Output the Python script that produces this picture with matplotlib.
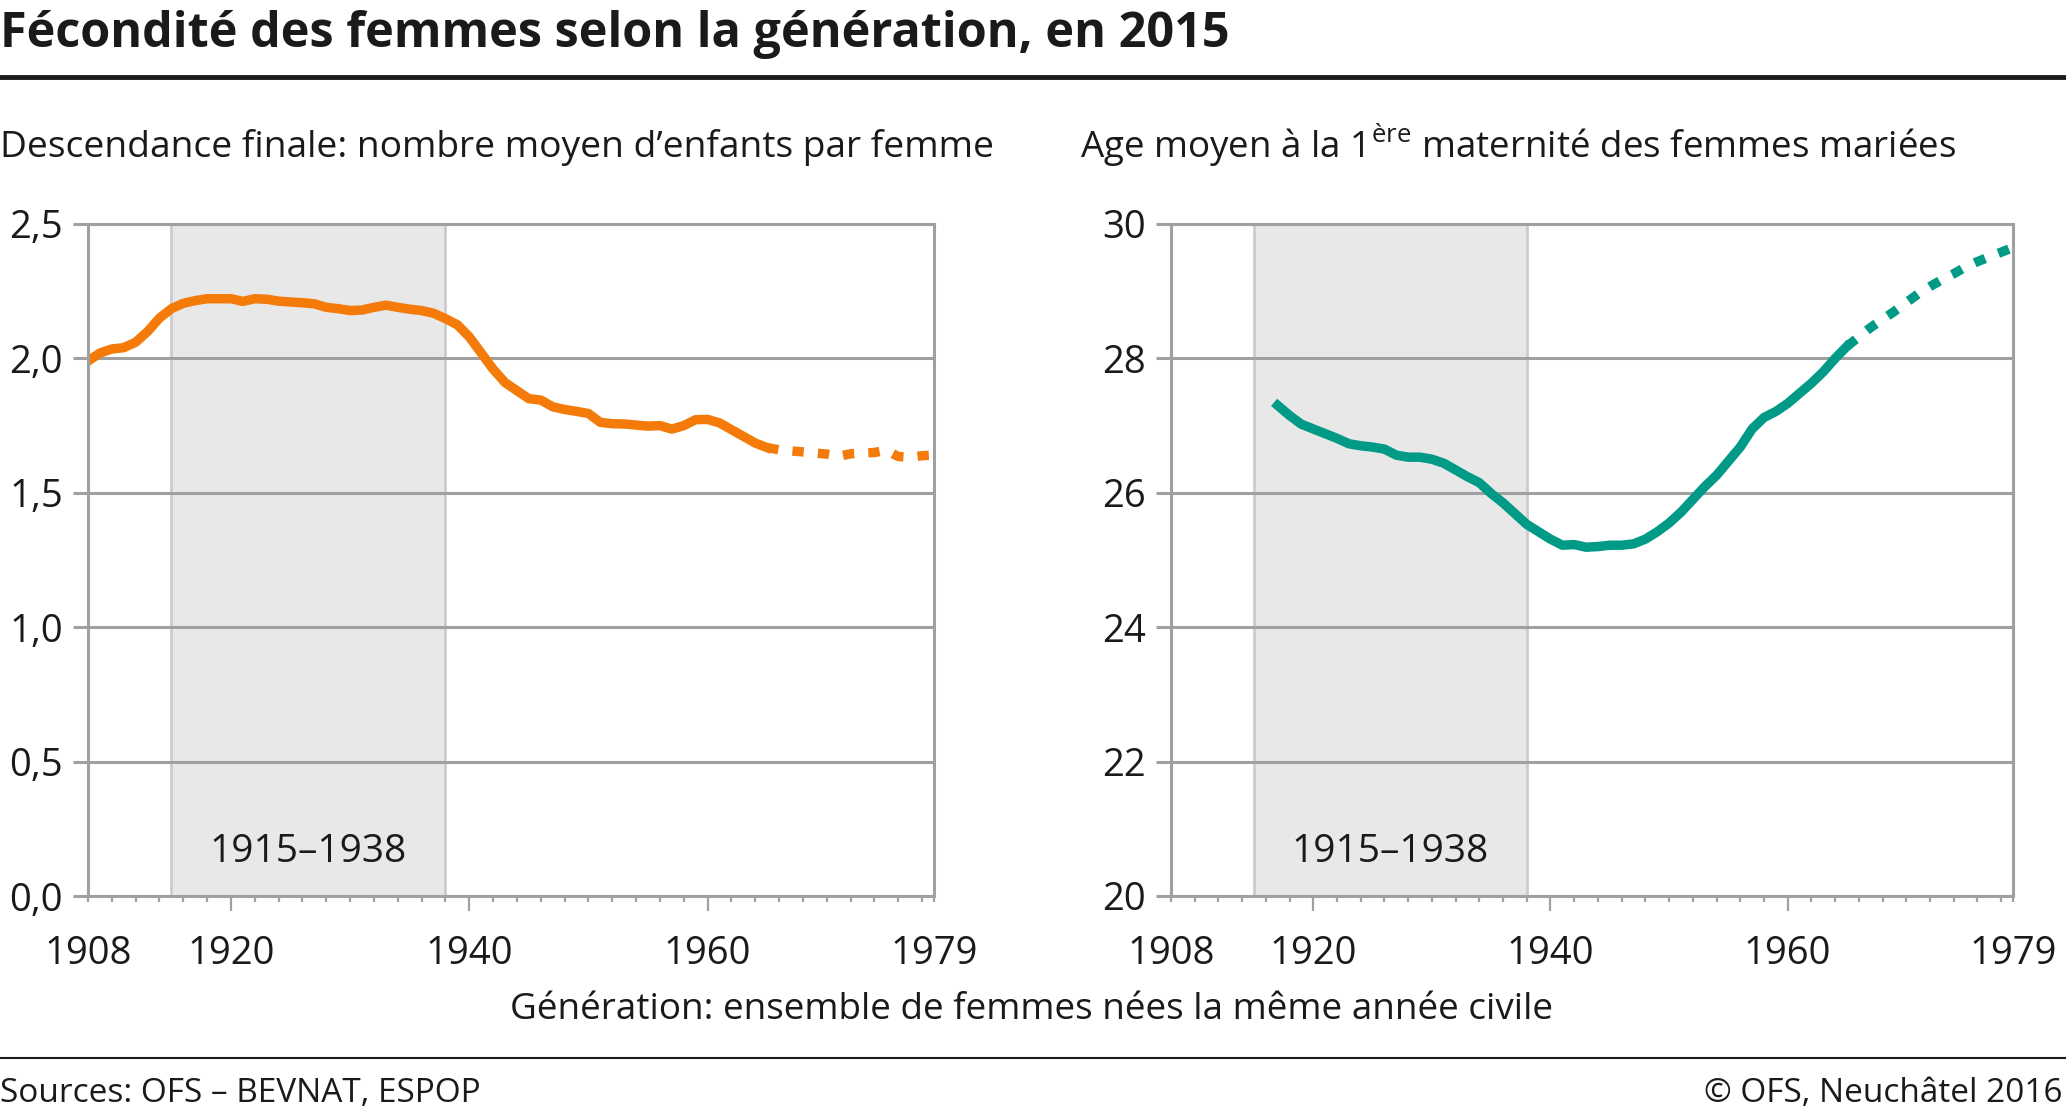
import numpy as np
import matplotlib.pyplot as plt
from matplotlib.lines import Line2D

plt.rcParams['font.family'] = ['Open Sans', 'DejaVu Sans']
plt.rcParams['mathtext.fontset'] = 'custom'
plt.rcParams['mathtext.rm'] = 'Open Sans'

# Descendance finale (nombre moyen d'enfants par femme)
annees_desc = list(range(1908, 1966))
desc = [1.99, 2.02, 2.035, 2.04, 2.06, 2.10, 2.15, 2.185, 2.205, 2.215,
        2.222, 2.222, 2.222, 2.212, 2.222, 2.220, 2.213, 2.210, 2.207, 2.203,
        2.19, 2.185, 2.178, 2.180, 2.19, 2.198, 2.19, 2.183, 2.178, 2.168,
        2.148, 2.125, 2.08, 2.02, 1.96, 1.91, 1.88, 1.85, 1.845, 1.82,
        1.81, 1.803, 1.795, 1.762, 1.757, 1.756, 1.752, 1.748, 1.75, 1.737,
        1.75, 1.772, 1.773, 1.76, 1.735, 1.71, 1.685, 1.668]
annees_desc_proj = list(range(1965, 1980))
desc_proj = [1.668, 1.66, 1.656, 1.652, 1.648, 1.644, 1.636, 1.645, 1.648,
             1.65, 1.658, 1.635, 1.632, 1.638, 1.64]

# Age moyen a la 1ere maternite (femmes mariees)
annees_age = list(range(1917, 1966))
age = [27.30, 27.15, 27.02, 26.95, 26.88, 26.81, 26.73, 26.70, 26.68, 26.65,
       26.56, 26.53, 26.53, 26.50, 26.44, 26.34, 26.24, 26.15, 25.99, 25.85,
       25.69, 25.53, 25.42, 25.31, 25.22, 25.23, 25.19, 25.20, 25.22, 25.22,
       25.24, 25.31, 25.42, 25.55, 25.71, 25.90, 26.09, 26.26, 26.47, 26.68,
       26.95, 27.12, 27.21, 27.33, 27.48, 27.63, 27.80, 28.00, 28.18]
annees_age_proj = list(range(1965, 1980))
age_proj = [28.18, 28.32, 28.46, 28.58, 28.70, 28.83, 28.96, 29.07, 29.17,
            29.26, 29.36, 29.44, 29.51, 29.58, 29.65]

xticks = [1908, 1920, 1940, 1960, 1979]
yticks_g = [0.0, 0.5, 1.0, 1.5, 2.0, 2.5]
ylabels_g = ['0,0', '0,5', '1,0', '1,5', '2,0', '2,5']
yticks_d = [20, 22, 24, 26, 28, 30]
periode = (1915, 1938)

W, H = 2066, 1115
fig = plt.figure(figsize=(W / 100, H / 100), dpi=100)

def fx(px):
    return px / W

def fy(py):
    return 1 - py / H

orange = '#f47b0a'
vert = '#009a87'
gris = '#a0a0a0'
noir = '#1a1a1a'


def habiller(ax, yt, yl, ylim):
    ax.axvspan(periode[0], periode[1], facecolor='#e8e8e8', edgecolor='#cccccc',
               lw=2, zorder=0.2)
    ax.set_xlim(1908, 1979)
    ax.set_ylim(*ylim)
    ax.set_yticks(yt)
    ax.set_yticklabels(yl)
    ax.set_xticks(xticks)
    ax.set_xticklabels([str(t) for t in xticks])
    ax.set_xticks(range(1908, 1980, 2), minor=True)
    ax.grid(axis='y', color=gris, lw=2.2)
    ax.set_axisbelow(True)
    for s in ax.spines.values():
        s.set_color(gris)
        s.set_linewidth(2.2)
    ax.tick_params(axis='y', length=11, width=2.2, color=gris, pad=7,
                   labelsize=27.5, labelcolor=noir)
    ax.tick_params(axis='x', which='major', length=11, width=1.6, color=gris,
                   pad=17, labelsize=27.5, labelcolor=noir)
    ax.tick_params(axis='x', which='minor', length=4.5, width=1.6, color=gris)
    ticks = ax.xaxis.get_major_ticks()
    for t in (ticks[0], ticks[-1]):
        t.tick1line.set_markersize(4.5)
    ax.text(sum(periode) / 2, 0.065, '1915–1938', transform=ax.get_xaxis_transform(),
            ha='center', va='center', fontsize=28, color=noir)


ax1 = fig.add_axes([fx(88), fy(896), fx(934 - 88), (896 - 224) / H])
habiller(ax1, yticks_g, ylabels_g, (0, 2.5))
ax1.plot(annees_desc, desc, color=orange, lw=6.8, solid_joinstyle='round')
ax1.plot(annees_desc_proj, desc_proj, color=orange, lw=6.8, dashes=(1.2, 1.5))

ax2 = fig.add_axes([fx(1171), fy(896), fx(2013 - 1171), (896 - 224) / H])
habiller(ax2, yticks_d, [str(v) for v in yticks_d], (20, 30))
ax2.plot(annees_age, age, color=vert, lw=6.8, solid_joinstyle='round')
ax2.plot(annees_age_proj, age_proj, color=vert, lw=6.8, dashes=(1.2, 1.5))

# textes
fig.text(fx(0), fy(47), 'Fécondité des femmes selon la génération, en 2015',
         fontsize=35, fontweight='bold', va='baseline', ha='left', color=noir)
fig.add_artist(Line2D([0, 1], [fy(77), fy(77)], color=noir, lw=3.5))
fig.text(fx(0), fy(157), 'Descendance finale: nombre moyen d\u2019enfants par femme',
         fontsize=26.7, va='baseline', ha='left', color=noir)
fig.text(fx(1080), fy(157), 'Age moyen à la 1$^{\\mathrm{ère}}$ maternité des femmes mariées',
         fontsize=26.5, va='baseline', ha='left', color=noir)
fig.text(fx(1032), fy(1010), 'Génération: ensemble de femmes nées la même année civile',
         fontsize=26.6, va='center', ha='center', color=noir)
fig.add_artist(Line2D([0, 1], [fy(1058), fy(1058)], color=noir, lw=1.5))
fig.text(fx(0), fy(1094), 'Sources: OFS – BEVNAT, ESPOP', fontsize=24,
         va='center', ha='left', color=noir)
fig.text(fx(2063), fy(1094), '© OFS, Neuchâtel 2016', fontsize=24,
         va='center', ha='right', color=noir)

fig.savefig('out.png', dpi=100)
